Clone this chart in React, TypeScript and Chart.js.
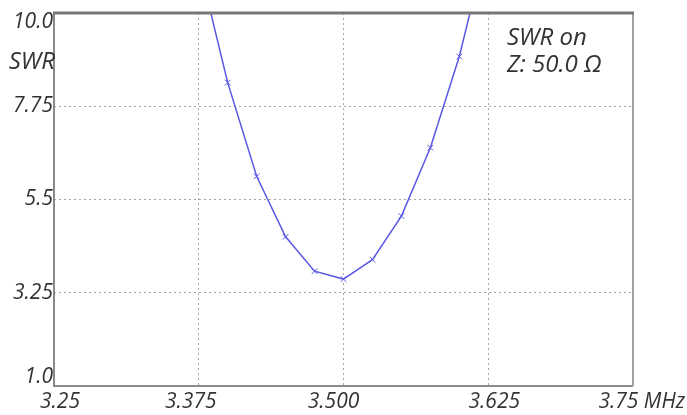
import React, { useEffect, useRef } from 'react';
import { Chart, registerables } from 'chart.js';

Chart.register(...registerables);

// Frequencies (MHz) and measured SWR
const freqs = [3.375, 3.4, 3.425, 3.45, 3.475, 3.5, 3.525, 3.55, 3.575, 3.6, 3.625];
const swr = [11.2, 8.32, 6.06, 4.6, 3.77, 3.58, 4.05, 5.1, 6.75, 8.95, 11.8];

const xTicks = [3.25, 3.375, 3.5, 3.625, 3.75];
const xTickLabels = ['3.25', '3.375', '3.500', '3.625', '3.75 MHz'];
const yTicks = [1, 3.25, 5.5, 7.75, 10];
const yTickLabels = ['1.0', '3.25', '5.5', '7.75', '10.0'];
const yTitle = 'SWR';
const noteLines = ['SWR on', 'Z: 50.0 Ω'];

const FONT = 'italic 21px "Open Sans", "Noto Sans", sans-serif';
const BIG_FONT = 'italic 24px "Open Sans", "Noto Sans", sans-serif';
const TEXT = '#333333';

const labelsPlugin = {
  id: 'swrLabels',
  afterDraw(chart: any) {
    const { ctx, chartArea, scales } = chart;
    const { left, right, top, bottom } = chartArea;
    const xs = scales.x;
    const ys = scales.y;
    ctx.save();
    // plot frame
    ctx.strokeStyle = '#8a8a8a';
    ctx.lineWidth = 2;
    ctx.beginPath();
    ctx.moveTo(left, top);
    ctx.lineTo(left, bottom);
    ctx.lineTo(right, bottom);
    ctx.stroke();
    ctx.strokeStyle = '#a0a0a0';
    ctx.beginPath();
    ctx.moveTo(right, top);
    ctx.lineTo(right, bottom);
    ctx.stroke();
    ctx.strokeStyle = '#777777';
    ctx.lineWidth = 3;
    ctx.beginPath();
    ctx.moveTo(left - 1, top);
    ctx.lineTo(right + 1, top);
    ctx.stroke();

    ctx.font = FONT;
    ctx.fillStyle = TEXT;
    // y tick labels
    ctx.textAlign = 'right';
    ctx.textBaseline = 'middle';
    yTicks.forEach((v, i) => {
      let y = ys.getPixelForValue(v);
      if (i === yTicks.length - 1) y += 9;
      if (i === 0) y -= 9;
      ctx.fillText(yTickLabels[i], left - 1, y);
    });
    ctx.font = BIG_FONT;
    ctx.fillText(yTitle, left + 1, ys.getPixelForValue(10) + 49);

    // x tick labels
    ctx.font = FONT;
    ctx.textBaseline = 'middle';
    const xShift = [0, -8, -10, 6, 0];
    xTicks.forEach((v, i) => {
      const x = xs.getPixelForValue(v);
      const y = bottom + 16;
      if (i === 0) {
        ctx.textAlign = 'left';
        ctx.fillText(xTickLabels[i], x - 14, y);
      } else if (i === xTicks.length - 1) {
        ctx.textAlign = 'right';
        ctx.fillText(xTickLabels[i], x + 52, y);
      } else {
        ctx.textAlign = 'center';
        ctx.fillText(xTickLabels[i], x + xShift[i], y);
      }
    });

    // note
    ctx.font = BIG_FONT;
    ctx.textAlign = 'left';
    ctx.textBaseline = 'alphabetic';
    ctx.fillText(noteLines[0], right - 126, top + 32);
    ctx.fillText(noteLines[1], right - 126, top + 59);
    ctx.restore();
  },
};

export default function App() {
  const ref = useRef<HTMLCanvasElement | null>(null);

  useEffect(() => {
    if (!ref.current) return;
    const gridColor = (ctx: any) => {
      const n = ctx.scale.ticks.length;
      return ctx.index === 0 || ctx.index === n - 1 ? 'rgba(0,0,0,0)' : '#a4a4a4';
    };
    const chart = new Chart(ref.current, {
      type: 'line',
      data: {
        datasets: [
          {
            data: freqs.map((f, i) => ({ x: f, y: swr[i] })),
            borderColor: 'rgb(88,88,228)',
            borderWidth: 1.5,
            pointStyle: 'crossRot',
            pointRadius: 4,
            pointBorderWidth: 1,
            pointBorderColor: 'rgb(88,88,228)',
            pointBackgroundColor: 'rgb(88,88,228)',
            fill: false,
            tension: 0,
          },
        ],
      },
      options: {
        animation: false,
        responsive: true,
        maintainAspectRatio: false,
        layout: { padding: { left: 54, top: 13, right: 54, bottom: 29 } },
        plugins: { legend: { display: false }, tooltip: { enabled: false } },
        scales: {
          x: {
            type: 'linear',
            min: 3.25,
            max: 3.75,
            afterBuildTicks: (s: any) => {
              s.ticks = xTicks.map((v) => ({ value: v }));
            },
            ticks: { display: false },
            grid: { color: gridColor, drawTicks: false, lineWidth: 1 },
            border: { display: false, dash: [2, 3] },
          },
          y: {
            type: 'linear',
            min: 1,
            max: 10,
            afterBuildTicks: (s: any) => {
              s.ticks = yTicks.map((v) => ({ value: v }));
            },
            ticks: { display: false },
            grid: { color: gridColor, drawTicks: false, lineWidth: 1 },
            border: { display: false, dash: [2, 3] },
          },
        },
      },
      plugins: [labelsPlugin],
    });
    return () => chart.destroy();
  }, []);

  return (
    <div style={{ position: 'absolute', left: 0, top: 0, width: 687, height: 415, background: '#fff' }}>
      <canvas ref={ref} />
    </div>
  );
}
